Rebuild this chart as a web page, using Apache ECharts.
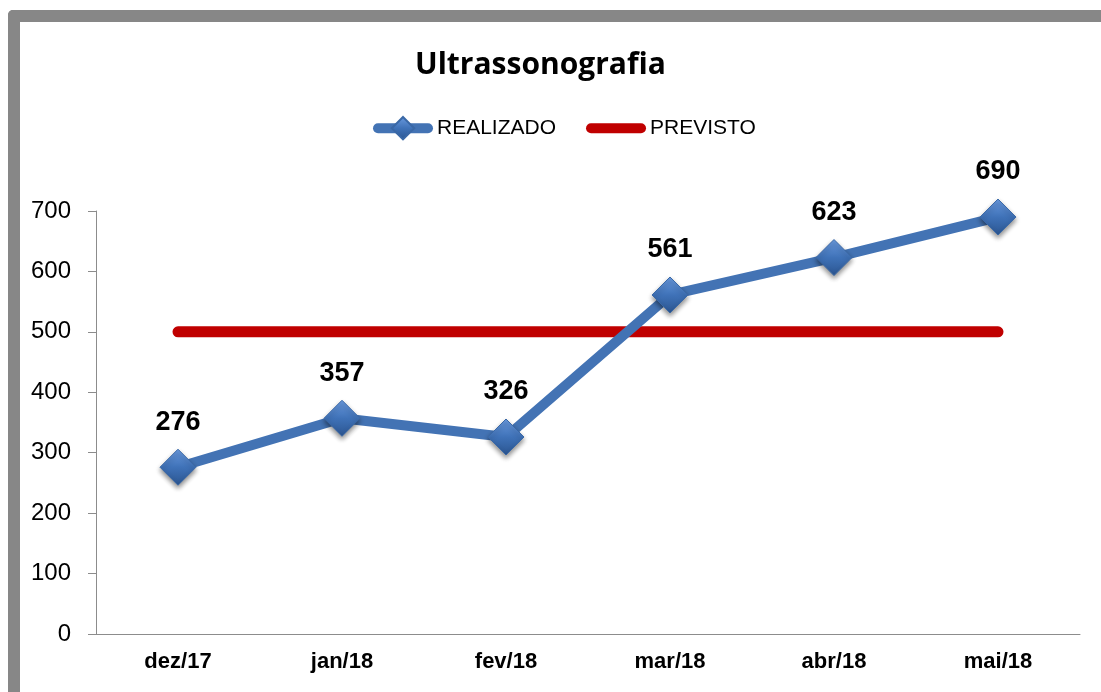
<!DOCTYPE html>
<html>
<head>
<meta charset="utf-8">
<script src="https://cdn.jsdelivr.net/npm/echarts@6/dist/echarts.min.js"></script>
<style>
  html, body { margin: 0; padding: 0; background: #fff; }
  #chart { width: 1101px; height: 692px; }
  .frame {
    position: absolute; left: 8px; top: 10px; width: 1101px; height: 670px;
    border-top: 12px solid #878787; border-left: 12px solid #878787;
    border-bottom: 1px solid #878787; border-top-left-radius: 5px;
    pointer-events: none;
  }
</style>
</head>
<body>
<div id="chart"></div>
<div class="frame"></div>
<script>
// dados
const meses = ['dez/17', 'jan/18', 'fev/18', 'mar/18', 'abr/18', 'mai/18']
const realizado = [276, 357, 326, 561, 623, 690]
const previsto = [500, 500, 500, 500, 500, 500]

const chart = echarts.init(document.getElementById('chart'))

const diamondFill = new echarts.graphic.LinearGradient(0, 0, 0, 1, [
  { offset: 0, color: '#6b9be0' },
  { offset: 0.5, color: '#3f72b8' },
  { offset: 1, color: '#2b5590' }
])

const option = {
  animation: false,
  title: {
    text: 'Ultrassonografia',
    left: 410,
    top: 45,
    textStyle: { fontFamily: 'Open Sans', fontWeight: 'bold', fontSize: 30, color: '#000' }
  },
  legend: {
    top: 111,
    left: 368,
    itemWidth: 50,
    itemHeight: 28,
    itemGap: 30,
    textStyle: { fontFamily: 'Liberation Sans', fontSize: 21, color: '#000', padding: [0, 0, 0, 4] },
    data: [
      { name: 'REALIZADO', lineStyle: { width: 10, cap: 'round' } },
      {
        name: 'PREVISTO',
        lineStyle: { width: 10, cap: 'round' },
        itemStyle: { color: 'transparent', borderWidth: 0 }
      }
    ]
  },
  grid: { left: 96, right: 21, top: 211, bottom: 58 },
  xAxis: {
    type: 'category',
    data: meses,
    boundaryGap: true,
    axisLine: { lineStyle: { color: '#8c8c8c', width: 1 } },
    axisTick: { show: false },
    axisLabel: {
      margin: 17,
      fontFamily: 'Liberation Sans',
      fontWeight: 'bold',
      fontSize: 22,
      color: '#000'
    }
  },
  yAxis: {
    type: 'value',
    min: 0,
    max: 700,
    interval: 100,
    splitLine: { show: false },
    axisLine: { show: true, lineStyle: { color: '#8c8c8c', width: 1 } },
    axisTick: { show: true, length: 8, lineStyle: { color: '#8c8c8c' } },
    axisLabel: { margin: 25, fontFamily: 'Liberation Sans', fontSize: 24, color: '#000' }
  },
  series: [
    {
      name: 'REALIZADO',
      type: 'line',
      data: realizado,
      z: 3,
      symbol: 'diamond',
      symbolSize: 36,
      lineStyle: { color: '#4373b4', width: 10 },
      itemStyle: {
        color: diamondFill,
        borderColor: '#3a68a6',
        borderWidth: 1,
        shadowColor: 'rgba(0,0,0,0.45)',
        shadowBlur: 5,
        shadowOffsetY: 3
      },
      label: {
        show: true,
        position: 'top',
        distance: 13,
        fontFamily: 'Liberation Sans',
        fontWeight: 'bold',
        fontSize: 27,
        color: '#000'
      }
    },
    {
      name: 'PREVISTO',
      type: 'line',
      data: previsto,
      z: 2,
      symbol: 'none',
      lineStyle: { color: '#c00000', width: 11, cap: 'round' },
      itemStyle: { color: '#c00000' }
    }
  ]
}

chart.setOption(option)
</script>
</body>
</html>
